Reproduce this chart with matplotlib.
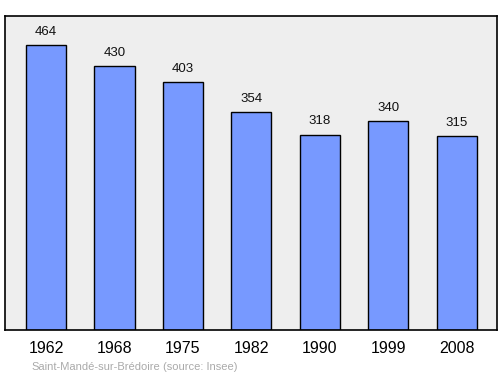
import matplotlib
matplotlib.use("Agg")
import matplotlib.pyplot as plt

plt.rcParams['font.family'] = ['Liberation Sans', 'DejaVu Sans']

years = ["1962", "1968", "1975", "1982", "1990", "1999", "2008"]
population = [464, 430, 403, 354, 318, 340, 315]

fig = plt.figure(figsize=(5, 3.74), dpi=100)
ax = fig.add_axes([0.01, 0.1176, 0.984, 0.8396])
ax.set_facecolor("#eeeeee")
x = list(range(len(years)))
ax.bar(x, population, width=0.585, color="#7799ff", edgecolor="black", linewidth=1, zorder=2)
for xi, v in zip(x, population):
    ax.text(xi, v + 16.5, str(v), ha="center", va="baseline", fontsize=9.5, color="#111111")
ax.set_xlim(-0.6, 6.59)
ax.set_ylim(0, 511)
ax.set_yticks([])
ax.set_xticks(x)
ax.set_xticklabels(years, fontsize=11.5)
ax.tick_params(axis="x", length=0, pad=8)
for s in ax.spines.values():
    s.set_linewidth(1.2)
fig.text(0.062, 0.012, "Saint-Mandé-sur-Brédoire", fontsize=8, color="#aaaaaa")
fig.text(0.326, 0.012, "(source: Insee)", fontsize=8, color="#aaaaaa")
fig.savefig("out.png", dpi=100)
